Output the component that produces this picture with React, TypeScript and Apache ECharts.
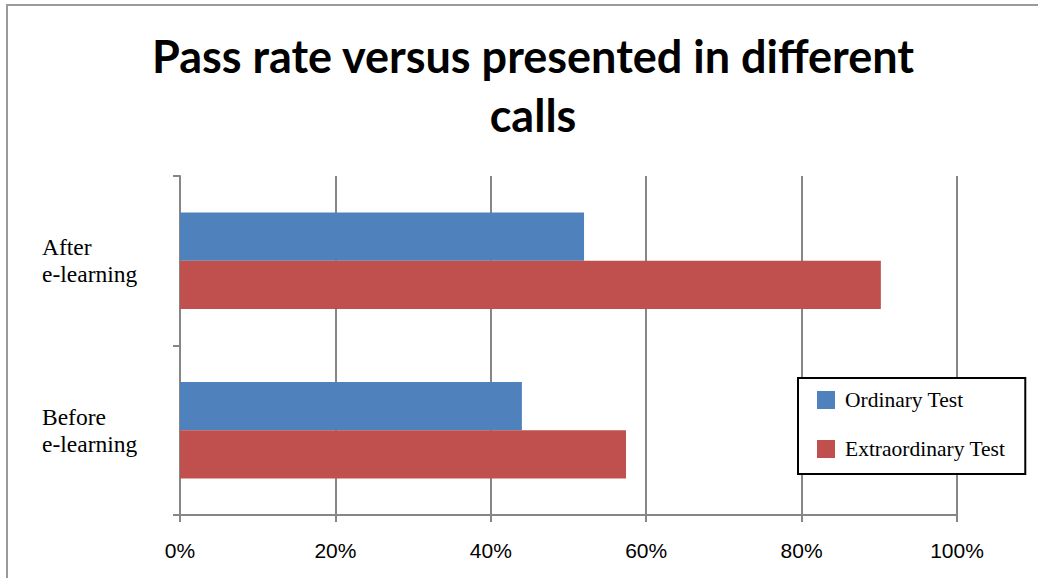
import React, { useEffect, useRef } from "react";
import * as echarts from "echarts";

const categories = ["Before\ne-learning", "After\ne-learning"];
const ordinaryTest = [44, 52];
const extraordinaryTest = [57.4, 90.2];
const seriesNames = ["Ordinary Test", "Extraordinary Test"];
const titleText = "Pass rate versus presented in different\ncalls";

export default function App() {
  const ref = useRef<HTMLDivElement>(null);
  useEffect(() => {
    if (!ref.current) return;
    const chart = echarts.init(ref.current, null, { renderer: "svg" });
    chart.setOption({
      animation: false,
      backgroundColor: "#ffffff",
      title: {
        text: titleText,
        left: 528,
        top: 21,
        textAlign: "center",
        textStyle: {
          fontFamily: "Lato",
          fontWeight: "bold",
          fontSize: 45,
          lineHeight: 59,
          color: "#000000",
        },
      },
      graphic: [
        {
          type: "polyline",
          shape: { points: [[7, 600], [7, 5], [1040, 5]] },
          style: { stroke: "#9a9a9a", lineWidth: 2, fill: "none" },
          z: 0,
        },
      ],
      grid: { left: 180, right: 81, top: 176, bottom: 63 },
      legend: {
        data: seriesNames,
        orient: "vertical",
        left: 798,
        top: 378,
        backgroundColor: "#ffffff",
        borderColor: "#000000",
        borderWidth: 2,
        padding: [11, 20, 14, 19],
        itemWidth: 18,
        itemHeight: 18,
        itemGap: 27,
        icon: "rect",
        textStyle: {
          fontFamily: "Liberation Serif",
          fontSize: 21.5,
          color: "#000000",
          padding: [4, 0, 0, 5],
        },
        z: 10,
      },
      xAxis: {
        type: "value",
        min: 0,
        max: 100,
        interval: 20,
        axisLine: { show: true, lineStyle: { color: "#868686", width: 2 } },
        axisTick: { show: true, length: 7, lineStyle: { color: "#868686", width: 2 } },
        splitLine: { show: true, lineStyle: { color: "#868686", width: 2 } },
        axisLabel: {
          formatter: "{value}%",
          fontFamily: "Liberation Sans",
          fontSize: 21,
          color: "#000000",
          margin: 25,
        },
      },
      yAxis: {
        type: "category",
        data: categories,
        axisLine: { show: true, lineStyle: { color: "#868686", width: 2 } },
        axisTick: { show: true, length: 7, lineStyle: { color: "#868686", width: 2 } },
        axisLabel: {
          fontFamily: "Liberation Serif",
          fontSize: 23.5,
          lineHeight: 27,
          color: "#000000",
          align: "left",
          margin: 138,
          padding: [12, 0, 0, 0],
        },
      },
      series: [
        {
          name: seriesNames[0],
          type: "bar",
          data: ordinaryTest,
          itemStyle: { color: "#4F81BD" },
          barGap: "0%",
          barCategoryGap: "43%",
        },
        {
          name: seriesNames[1],
          type: "bar",
          data: extraordinaryTest,
          itemStyle: { color: "#C0504D" },
          barGap: "0%",
          barCategoryGap: "43%",
        },
      ],
    });
    return () => chart.dispose();
  }, []);
  return (
    <div
      ref={ref}
      style={{ position: "fixed", left: 0, top: 0, width: 1038, height: 578 }}
    />
  );
}
